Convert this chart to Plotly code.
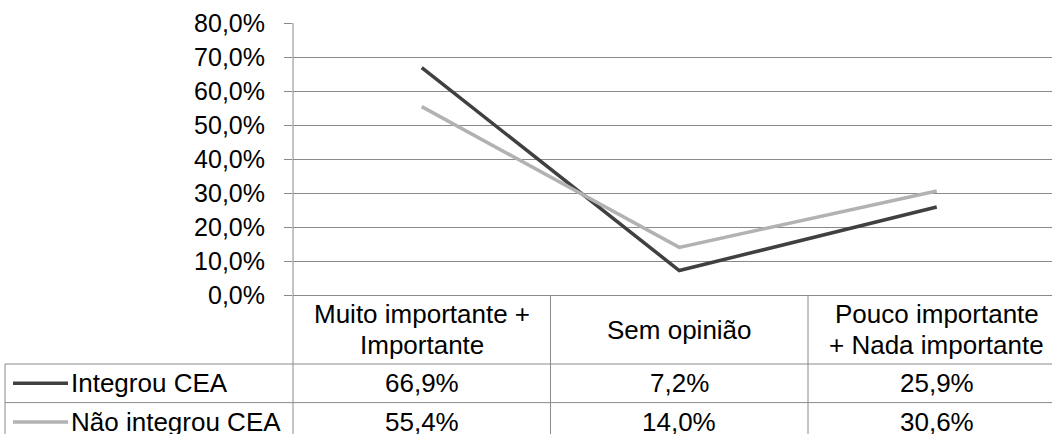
import plotly.graph_objects as go

# Categories (header row of the data table) and the two series
categories = ["Muito importante +<br>Importante", "Sem opinião", "Pouco importante<br>+ Nada importante"]
series_names = ["Integrou CEA", "Não integrou CEA"]
integrou = [0.669, 0.072, 0.259]
nao_integrou = [0.554, 0.140, 0.306]
series_values = [integrou, nao_integrou]
series_colors = ["#404040", "#b2b2b2"]

tick_vals = [0.0, 0.1, 0.2, 0.3, 0.4, 0.5, 0.6, 0.7, 0.8]
tick_text = ["0,0%", "10,0%", "20,0%", "30,0%", "40,0%", "50,0%", "60,0%", "70,0%", "80,0%"]

# Layout geometry (pixels)
W, H = 1052, 434
L, T = 293, 23
PLOT_BOTTOM = 295
COL_W = 257.5
PLOT_W = W - L
PLOT_H = PLOT_BOTTOM - T
HEADER_BOTTOM = 364
ROW_H = 38.6
TABLE_LEFT = 5
GRID = "#8a8a8a"
FONT = "Liberation Sans, Arial, sans-serif"
AXIS_FS = 25
TABLE_FS = 26


def px_x(px):
    return (px - L) / PLOT_W


def px_y(py):
    return (PLOT_BOTTOM - py) / PLOT_H


def fmt(v):
    return f"{v * 100:.1f}%".replace(".", ",")


fig = go.Figure()
x_idx = list(range(len(categories)))
for name, vals, color in zip(series_names, series_values, series_colors):
    fig.add_trace(go.Scatter(x=x_idx, y=vals, mode="lines", name=name,
                             line=dict(color=color, width=3.5), showlegend=False))

shapes = []
annotations = []
bottom = px_y(H + 10)

# vertical column separators of the table (the first is the y axis line continued)
for i in range(len(categories) + 1):
    xp = px_x(L + i * COL_W)
    y_top = 1 if i == 0 else 0
    shapes.append(dict(type="line", xref="paper", yref="paper", x0=xp, x1=xp,
                       y0=y_top, y1=bottom, line=dict(color=GRID, width=1)))
# table left border
shapes.append(dict(type="line", xref="paper", yref="paper", x0=px_x(TABLE_LEFT), x1=px_x(TABLE_LEFT),
                   y0=px_y(HEADER_BOTTOM), y1=bottom, line=dict(color=GRID, width=1)))
# horizontal row separators
for r in range(len(series_names) + 1):
    yp = px_y(HEADER_BOTTOM + r * ROW_H)
    shapes.append(dict(type="line", xref="paper", yref="paper", x0=px_x(TABLE_LEFT), x1=px_x(W + 20),
                       y0=yp, y1=yp, line=dict(color=GRID, width=1)))

# header labels
for i, cat in enumerate(categories):
    lines = cat.split("<br>")
    n = len(lines)
    mid = (PLOT_BOTTOM + HEADER_BOTTOM) / 2
    for k, ln in enumerate(lines):
        cy = mid + (k - (n - 1) / 2) * 31
        annotations.append(dict(xref="x", yref="paper", x=i, y=px_y(cy), text=ln, showarrow=False,
                                xanchor="center", yanchor="middle",
                                font=dict(family=FONT, size=TABLE_FS, color="#000")))

# series rows: legend key, name, values
for r, (name, vals, color) in enumerate(zip(series_names, series_values, series_colors)):
    cy = HEADER_BOTTOM + (r + 0.5) * ROW_H
    shapes.append(dict(type="line", xref="paper", yref="paper", x0=px_x(13), x1=px_x(68),
                       y0=px_y(cy), y1=px_y(cy), line=dict(color=color, width=3.5)))
    annotations.append(dict(xref="paper", yref="paper", x=px_x(69), y=px_y(cy), text=name,
                            showarrow=False, xanchor="left", yanchor="middle",
                            font=dict(family=FONT, size=TABLE_FS, color="#000")))
    for i, v in enumerate(vals):
        annotations.append(dict(xref="x", yref="paper", x=i, y=px_y(cy), text=fmt(v),
                                showarrow=False, xanchor="center", yanchor="middle",
                                font=dict(family=FONT, size=TABLE_FS, color="#000")))

fig.update_layout(
    width=W, height=H,
    margin=dict(l=L, r=0, t=T, b=H - PLOT_BOTTOM, pad=0),
    paper_bgcolor="white", plot_bgcolor="white",
    xaxis=dict(range=[-0.5, -0.5 + PLOT_W / COL_W], showgrid=False, zeroline=False,
               showticklabels=False, ticks="", showline=True, linecolor=GRID, linewidth=1),
    yaxis=dict(range=[0, 0.8], tickvals=tick_vals, ticktext=tick_text, showgrid=True,
               gridcolor=GRID, gridwidth=1, zeroline=False, showline=False,
               ticks="outside", ticklen=8, tickcolor=GRID, tickwidth=1, ticklabelstandoff=14,
               tickfont=dict(family=FONT, size=AXIS_FS, color="#000")),
    shapes=shapes, annotations=annotations,
)

fig.write_html("out.html")
